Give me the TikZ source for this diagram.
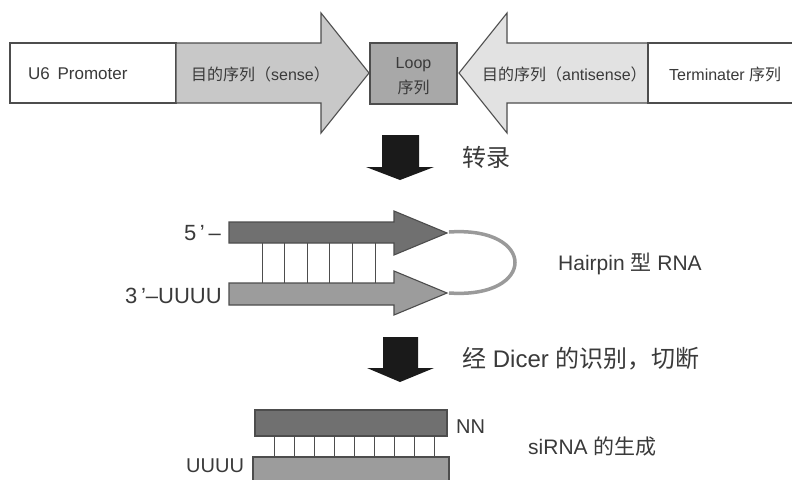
\documentclass[tikz,border=0pt]{standalone}
\usepackage{fontspec}
\setmainfont{Liberation Sans}
\newfontfamily\cjk{Noto Sans CJK SC}
\newcommand{\zh}[1]{{\cjk #1}}
\definecolor{edge}{HTML}{4D4D4D}
\definecolor{txt}{HTML}{3A3A3A}
\definecolor{senseC}{HTML}{C8C8C8}
\definecolor{loopC}{HTML}{A8A8A8}
\definecolor{antiC}{HTML}{E2E2E2}
\definecolor{darkC}{HTML}{707070}
\definecolor{midC}{HTML}{9C9C9C}
\definecolor{curveC}{HTML}{9A9A9A}
\definecolor{bigarrow}{HTML}{1A1A1A}
\tikzset{
  outl/.style={draw=edge, line width=1.1pt},
  rung/.style={draw=edge, line width=0.8pt},
  lbl/.style={inner sep=0pt, text=txt},
  lbltop/.style={lbl, font=\fontsize{16}{19}\selectfont},
  lblbig/.style={lbl, font=\fontsize{24}{28}\selectfont},
  lblmid/.style={lbl, font=\fontsize{21}{25}\selectfont},
  downarrow/.style={fill=bigarrow, draw=none}
}
\begin{document}
\begin{tikzpicture}[x=1pt,y=-1pt]
\useasboundingbox (0,0) rectangle (792,479);
\clip (0,0) rectangle (792,479);
\fill[white] (0,0) rectangle (792,479);

% ---- top construct ----
\path[outl, fill=white] (10,43) rectangle (176,103);
\path[outl, fill=senseC] (176,43) -- (321,43) -- (321,13) -- (369,73) -- (321,133) -- (321,103) -- (176,103) -- cycle;
\path[outl, fill=loopC] (370,43) rectangle (457,104);
\path[outl, fill=antiC] (648,43) -- (507,43) -- (507,13) -- (459,73) -- (507,133) -- (507,103) -- (648,103) -- cycle;
\path[outl, fill=white] (800,43) -- (648,43) -- (648,103) -- (800,103);

\node[lbltop, anchor=west, font=\fontsize{17}{20}\selectfont] (u6) at (28,74) {U6\hspace{0.45em}Promoter};
\node[lbltop, anchor=west] (sense) at (191,74) {\zh{目的序列（}sense\zh{）}};
\node[lbltop] (loop1) at (413.5,65) {Loop};
\node[lbltop] (loop2) at (413.5,87) {\zh{序列}};
\node[lbltop, anchor=west] (anti) at (482,74) {\zh{目的序列（}antisense\zh{）}};
\node[lbltop, anchor=west] (term) at (669,74) {Terminater \zh{序列}};

% ---- first down arrow ----
\path[downarrow] (382,135) -- (419,135) -- (419,167) -- (434,167) -- (400,180) -- (366,167) -- (382,167) -- cycle;
\node[lblbig, anchor=west] (trans) at (462,157) {\zh{转录}};

% ---- hairpin ----
\foreach \x in {262,284.6,307.2,329.8,352.4,375} {
  \draw[rung] (\x,243) -- (\x,283);
}
\path[outl, fill=darkC] (229,222) -- (394,222) -- (394,211) -- (447,233) -- (394,255) -- (394,243) -- (229,243) -- cycle;
\path[outl, fill=midC] (229,283) -- (394,283) -- (394,271) -- (447,293) -- (394,315) -- (394,305) -- (229,305) -- cycle;
\draw[curveC, line width=3.5pt] (449,232) .. controls (537,226) and (537,299) .. (449,293);

\node[lblmid, anchor=east, font=\fontsize{22}{26}\selectfont] (five) at (221,233) {5\,’\,–};
\node[lblmid, anchor=east, font=\fontsize{22}{26}\selectfont] (three) at (222,296) {3\,’–UUUU};
\node[lblmid, anchor=west] (hair) at (558,264) {Hairpin \zh{型} RNA};

% ---- second down arrow ----
\path[downarrow] (383,337) -- (418,337) -- (418,368) -- (434,368) -- (400,382) -- (367,368) -- (383,368) -- cycle;
\node[lblbig, anchor=west] (dicer) at (462,359) {\zh{经} Dicer \zh{的识别，切断}};

% ---- siRNA ----
\foreach \i in {0,...,8} {
  \draw[rung] ({274+20*\i},436) -- ({274+20*\i},457);
}
\path[outl, fill=darkC] (255,410) rectangle (447,436);
\path[outl, fill=midC] (253,457) rectangle (449,492);
\node[lblmid, anchor=west, font=\fontsize{20}{24}\selectfont] (nn) at (456,427) {NN};
\node[lblmid, anchor=west] (sirna) at (528,447) {siRNA \zh{的生成}};
\node[lblmid, anchor=west, font=\fontsize{20}{24}\selectfont] (uuuu) at (186,466) {UUUU};
\end{tikzpicture}
\end{document}
